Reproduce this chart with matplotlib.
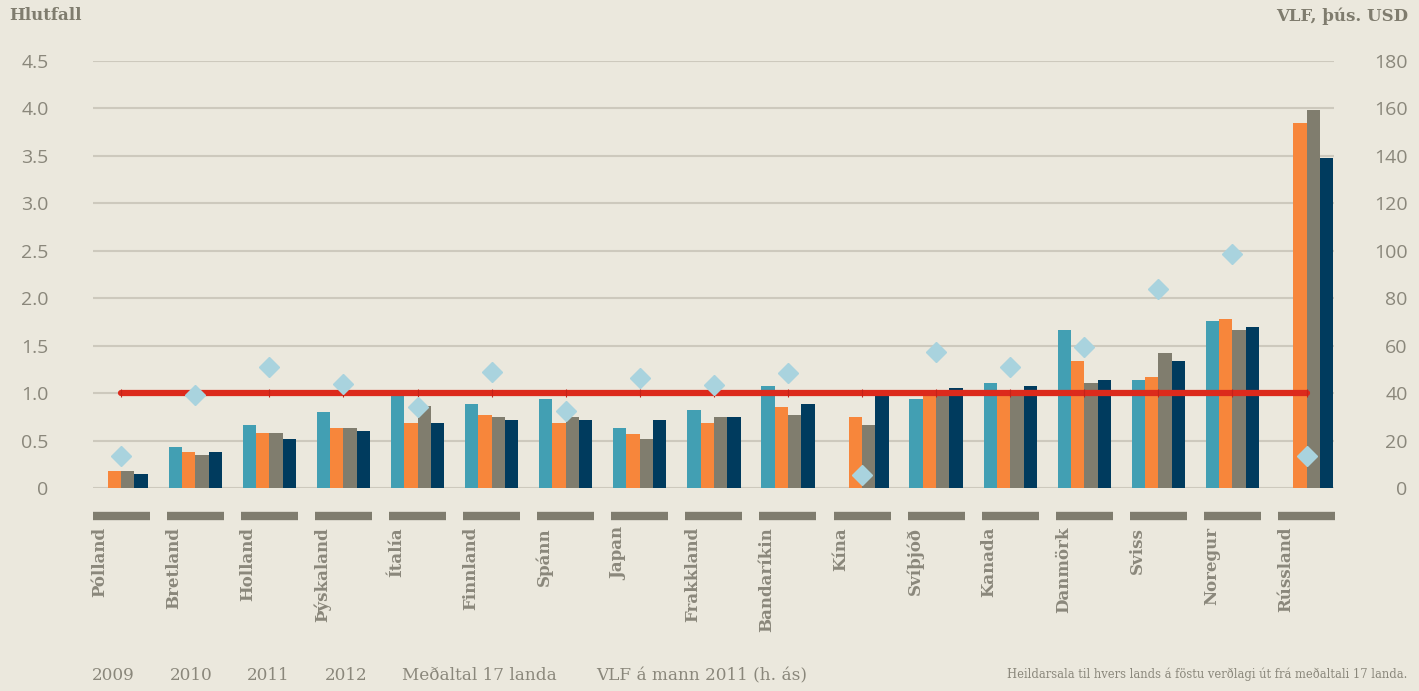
import numpy as np
import matplotlib
matplotlib.use("Agg")
import matplotlib.pyplot as plt
import matplotlib.transforms as mtransforms

nan = np.nan

# Data
countries = ['Pólland', 'Bretland', 'Holland', 'Þýskaland', 'Ítalía', 'Finnland',
             'Spánn', 'Japan', 'Frakkland', 'Bandaríkin', 'Kína', 'Svíþjóð',
             'Kanada', 'Danmörk', 'Sviss', 'Noregur', 'Rússland']
y2009 = [nan, 0.43, 0.66, 0.80, 0.98, 0.885, 0.94, 0.63, 0.825, 1.08, nan, 0.94,
         1.11, 1.67, 1.14, 1.76, nan]
y2010 = [0.18, 0.38, 0.58, 0.63, 0.69, 0.77, 0.685, 0.57, 0.685, 0.85, 0.745, 1.0,
         1.0, 1.335, 1.17, 1.785, 3.85]
y2011 = [0.18, 0.35, 0.58, 0.63, 0.86, 0.745, 0.745, 0.515, 0.745, 0.77, 0.66, 1.0,
         1.0, 1.11, 1.42, 1.67, 3.98]
y2012 = [0.15, 0.38, 0.52, 0.60, 0.69, 0.717, 0.717, 0.717, 0.745, 0.885, 0.99, 1.05,
         1.08, 1.14, 1.335, 1.70, 3.48]
avg17 = [1.0] * len(countries)
gdp_per_capita = [13.5, 39.2, 51.0, 43.9, 34.3, 48.9, 32.6, 46.2, 43.3, 48.4, 5.4,
                  57.3, 50.9, 59.3, 83.8, 98.6, 13.4]

series = [y2009, y2010, y2011, y2012]
colors = ['#429fb3', '#f7863b', '#807d6e', '#003b5e']
legend_labels = ['2009', '2010', '2011', '2012', 'Meðaltal 17 landa',
                 'VLF á mann 2011 (h. ás)']

bg = '#ebe8dd'
txt = '#8a877b'
grid_c = '#cdc9bd'

fig = plt.figure(figsize=(14.19, 6.91), dpi=100, facecolor=bg)
ax = fig.add_axes([93 / 1419, 1 - 488 / 691, (1334 - 93) / 1419, 427 / 691])
ax.set_facecolor(bg)

x = np.arange(len(countries))
w = 0.18
for k, (vals, c) in enumerate(zip(series, colors)):
    ax.bar(x + (k - 1.5) * w, vals, width=w, color=c, zorder=2)

ax.plot(x, avg17, color='#dc2a1c', lw=4.5, solid_capstyle='round', zorder=3,
        marker='|', ms=5.5, mew=0.8, mec='#c4231a')

ax.set_xlim(-0.38, 16.37)
ax.set_ylim(0, 4.5)
ax.set_yticks(np.arange(0, 4.51, 0.5))
ax.set_yticklabels(['0'] + [f'{v:.1f}' for v in np.arange(0.5, 4.51, 0.5)])
ax.yaxis.grid(True, color=grid_c, lw=1.5)
ax.set_axisbelow(True)
for s in ax.spines.values():
    s.set_visible(False)
ax.tick_params(axis='y', length=0, pad=32, labelsize=14, labelcolor=txt)
for lab in ax.get_yticklabels():
    lab.set_fontfamily('Open Sans')

# category labels below thick segments
ax.set_xticks(x - 0.285)
ax.set_xticklabels(countries, rotation=90, va='top', ha='center',
                   fontfamily='DejaVu Serif', fontweight='bold', fontsize=12,
                   color=txt)
ax.tick_params(axis='x', length=0, pad=28)

trans = mtransforms.blended_transform_factory(ax.transData, ax.transAxes)
for xi in x:
    ax.plot([xi - 0.385, xi + 0.385], [-0.0656, -0.0656], transform=trans,
            color='#7f7c6e', lw=6, solid_capstyle='butt', clip_on=False)

# right axis with diamonds
ax2 = ax.twinx()
ax2.set_ylim(0, 180)
ax2.set_yticks(np.arange(0, 181, 20))
ax2.plot(x, gdp_per_capita, linestyle='none', marker='D', ms=10,
         color='#a9d3de', zorder=4)
for s in ax2.spines.values():
    s.set_visible(False)
ax2.tick_params(axis='y', length=0, pad=53, labelsize=14, labelcolor=txt)
for lab in ax2.get_yticklabels():
    lab.set_fontfamily('Open Sans')
    lab.set_horizontalalignment('right')

# axis titles
fig.text(9 / 1419, 1 - 16 / 691, 'Hlutfall', fontfamily='DejaVu Serif',
         fontweight='bold', fontsize=12, color='#7f7c6e', va='center', ha='left')
fig.text(1408 / 1419, 1 - 16 / 691, 'VLF, þús. USD', fontfamily='DejaVu Serif',
         fontweight='bold', fontsize=12, color='#7f7c6e', va='center', ha='right')

# legend text row
leg_x = [92, 170, 247, 325, 402, 596]
for lx, lab in zip(leg_x, legend_labels):
    fig.text(lx / 1419, 1 - 676 / 691, lab, fontfamily='DejaVu Serif',
             fontsize=12.2, color=txt, va='center', ha='left')

fig.text(1407 / 1419, 1 - 674 / 691,
         'Heildarsala til hvers lands á föstu verðlagi út frá meðaltali 17 landa.',
         fontfamily='DejaVu Serif', fontsize=8.3, color=txt, va='center', ha='right')

fig.savefig('out.png', dpi=100, facecolor=bg)
